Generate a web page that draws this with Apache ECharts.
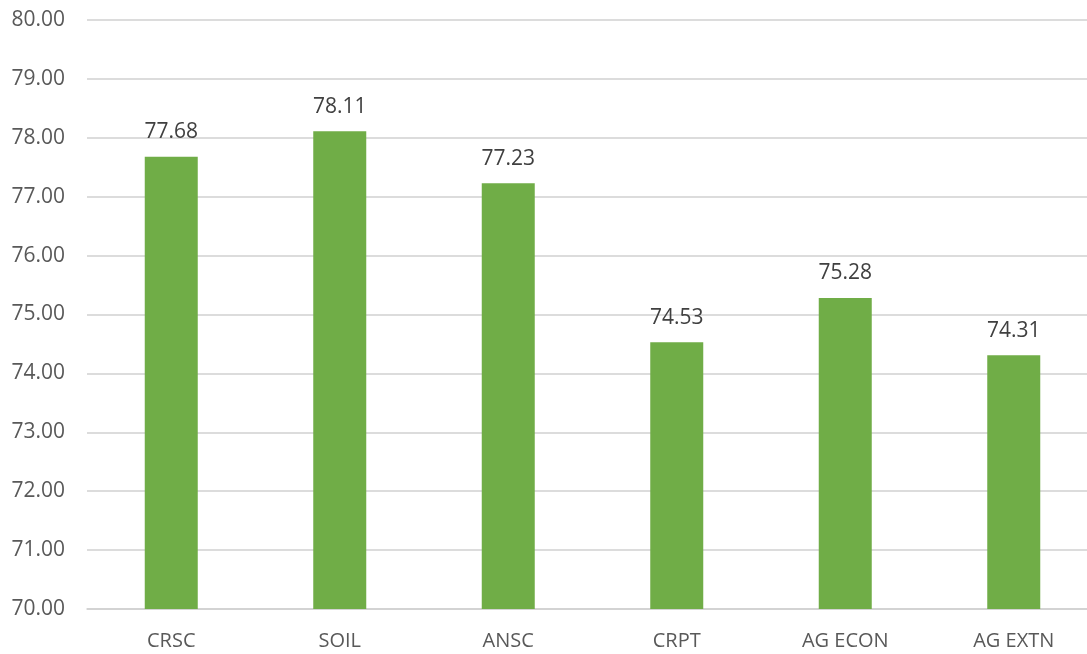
<!DOCTYPE html>
<html>
<head>
<meta charset="utf-8">
<script src="https://cdn.jsdelivr.net/npm/echarts@6/dist/echarts.min.js"></script>
<style>html,body{margin:0;padding:0;background:#fff;}#c{width:1087px;height:654px;}</style>
</head>
<body>
<div id="c"></div>
<script>
var categories = ['CRSC', 'SOIL', 'ANSC', 'CRPT', 'AG ECON', 'AG EXTN'];
var values = [77.68, 78.11, 77.23, 74.53, 75.28, 74.31];
var yMin = 70, yMax = 80, yStep = 1;

var chart = echarts.init(document.getElementById('c'));
chart.setOption({
  animation: false,
  backgroundColor: '#ffffff',
  textStyle: { fontFamily: 'Open Sans' },
  grid: { left: 87, width: 1011, top: 20, bottom: 45, containLabel: false, outerBoundsMode: 'none' },
  xAxis: {
    type: 'category',
    data: categories,
    axisLine: { show: true, lineStyle: { color: '#d0d0d0', width: 1.5 } },
    axisTick: { show: false },
    axisLabel: { color: '#595959', fontSize: 20, margin: 22, fontFamily: 'Open Sans' }
  },
  yAxis: {
    type: 'value',
    min: yMin, max: yMax, interval: yStep,
    axisLine: { show: false },
    axisTick: { show: false },
    splitLine: { lineStyle: { color: '#d0d0d0', width: 1.5 } },
    axisLabel: { color: '#595959', fontSize: 21, margin: 22, fontFamily: 'Open Sans',
      formatter: function (v) { return v.toFixed(2); } }
  },
  series: [{
    type: 'bar',
    data: values,
    barWidth: 53,
    itemStyle: { color: '#70ad47' },
    label: { show: true, position: 'top', distance: 14, color: '#404040', fontSize: 21,
      fontFamily: 'Open Sans', formatter: function (p) { return p.value.toFixed(2); } }
  }]
});
</script>
</body>
</html>
